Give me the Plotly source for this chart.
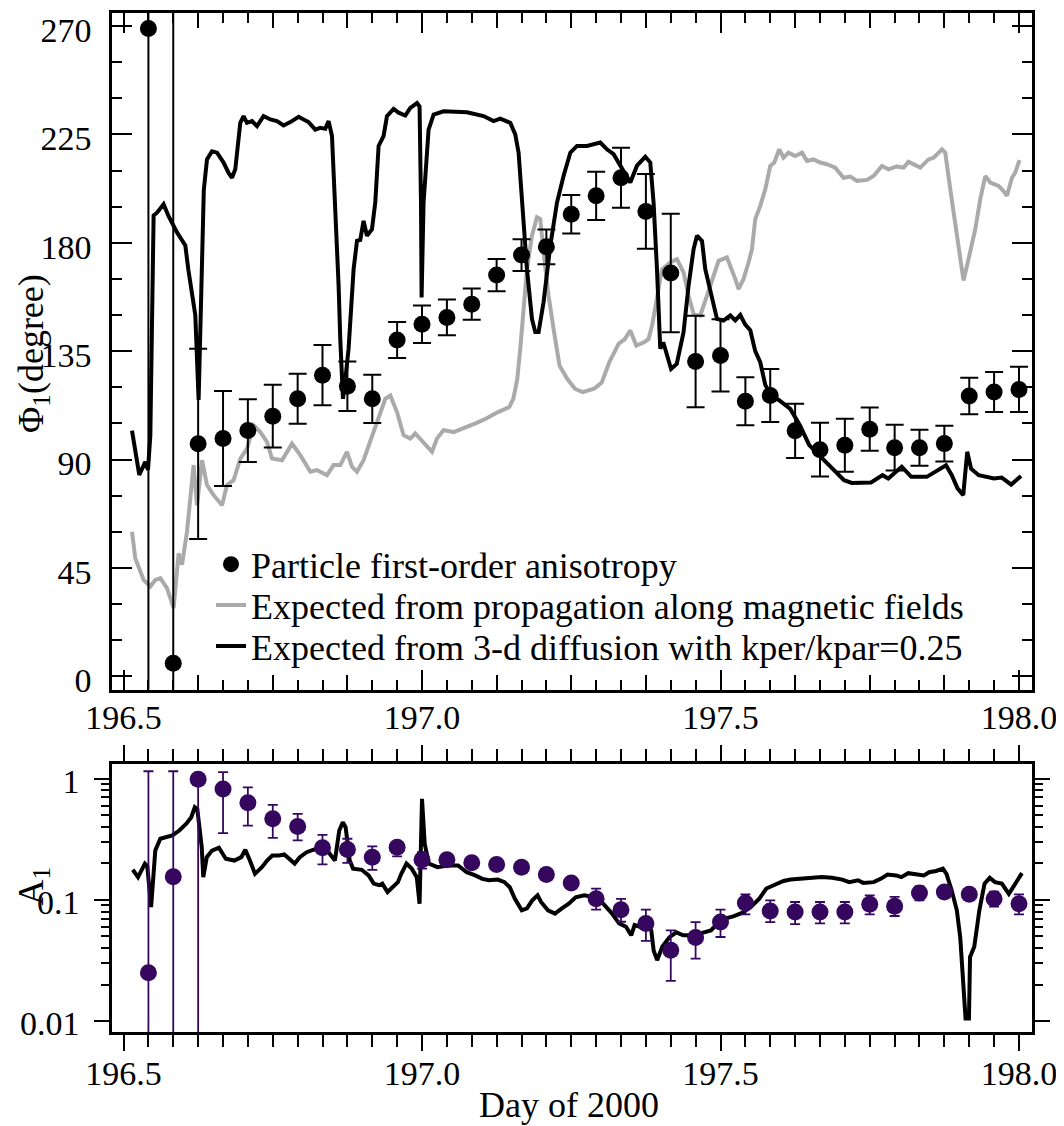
import plotly.graph_objects as go

# ---------------- data ----------------
# hourly particle anisotropy samples (Day of 2000)
t_pts = [196.5417, 196.5833, 196.625, 196.6667, 196.7083, 196.75, 196.7917, 196.8333,
         196.875, 196.9167, 196.9583, 197.0, 197.0417, 197.0833, 197.125, 197.1667,
         197.2083, 197.25, 197.2917, 197.3333, 197.375, 197.4167, 197.4583, 197.5,
         197.5417, 197.5833, 197.625, 197.6667, 197.7083, 197.75, 197.7917, 197.8333,
         197.875, 197.9167, 197.9583, 198.0]
phi = [269, 5.4, 96.5, 98.7, 102, 108, 115.2, 125, 120.4, 115.2, 139.6, 146.2, 149, 154.5,
       166.6, 174.9, 178.3, 191.8, 199.5, 207, 193, 167.4, 130.7, 133.2, 114.2, 116.6,
       101.9, 94.1, 95.9, 102.6, 94.9, 94.9, 96.6, 116.4, 118, 119.1]
phi_err = [400, 400, 39.5, 19.7, 13, 13, 10.4, 12.5, 10.3, 10, 7.5, 7.8, 7.4, 6.5, 6.7, 6.6,
           7.2, 8, 10, 12.5, 15.5, 24.6, 19, 15, 10, 11, 11.3, 11.2, 11, 9, 9.5, 7.5, 7.4,
           7.6, 8.3, 9.4]

a1 = [0.025, 0.155, 0.99, 0.822, 0.631, 0.466, 0.403, 0.269, 0.26, 0.225, 0.272, 0.214,
      0.214, 0.202, 0.196, 0.186, 0.162, 0.138, 0.102, 0.083, 0.0637, 0.0384, 0.0489,
      0.0656, 0.094, 0.081, 0.0794, 0.0794, 0.0794, 0.0918, 0.0885, 0.114, 0.116, 0.111,
      0.102, 0.093]
a1_hi = [1.15, 1.15, 1.0, 1.13, 0.848, 0.607, 0.512, 0.344, 0.319, 0.276, 0.30, 0.248,
         0.235, 0.22, 0.213, 0.2, 0.175, 0.15, 0.124, 0.102, 0.083, 0.056, 0.0656, 0.083,
         0.111, 0.099, 0.096, 0.096, 0.096, 0.109, 0.106, 0.129, 0.128, 0.122, 0.117, 0.111]
a1_lo = [0, 0, 0, 0.355, 0.41, 0.325, 0.309, 0.196, 0.202, 0.177, 0.228, 0.181, 0.195,
         0.185, 0.18, 0.172, 0.15, 0.127, 0.083, 0.066, 0.0458, 0.0215, 0.0328, 0.0494,
         0.076, 0.0656, 0.063, 0.064, 0.064, 0.076, 0.0736, 0.099, 0.104, 0.1, 0.088, 0.076]

# expected from propagation along magnetic fields (grey)
t_mag = [196.5142, 196.5197, 196.5336, 196.5449, 196.5532, 196.5616, 196.5728, 196.5839,
         196.5923, 196.5980, 196.6063, 196.6174, 196.6231, 196.6315, 196.6398, 196.6509,
         196.6650, 196.6733, 196.6844, 196.6956, 196.7068, 196.7179, 196.7291, 196.7403,
         196.7487, 196.7655, 196.7822, 196.7961, 196.8129, 196.8241, 196.8408, 196.8519,
         196.8631, 196.8743, 196.8827, 196.8911, 196.9021, 196.9134, 196.9246, 196.9385,
         196.9469, 196.9581, 196.9691, 196.9804, 196.9887, 197.0026, 197.0167, 197.0251,
         197.0361, 197.0529, 197.0691, 197.0886, 197.1077, 197.1273, 197.1462, 197.1529,
         197.1596, 197.1646, 197.1758, 197.1842, 197.1926, 197.1981, 197.2036, 197.2120,
         197.2204, 197.2303, 197.2433, 197.2561, 197.2690, 197.2882, 197.3011, 197.3137,
         197.3293, 197.3398, 197.3489, 197.3589, 197.3720, 197.3795, 197.3857, 197.3936,
         197.4020, 197.4159, 197.4271, 197.4381, 197.4465, 197.4549, 197.4661, 197.4773,
         197.4884, 197.4968, 197.5108, 197.5164, 197.5247, 197.5303, 197.5386, 197.5470,
         197.5527, 197.5582, 197.5666, 197.5750, 197.5834, 197.5901, 197.5984, 197.6056,
         197.6140, 197.6252, 197.6365, 197.6448, 197.6559, 197.6671, 197.6783, 197.6922,
         197.7061, 197.7174, 197.7286, 197.7453, 197.7564, 197.7705, 197.7815, 197.7956,
         197.8066, 197.8150, 197.8346, 197.8485, 197.8569, 197.8710, 197.8765, 197.8849,
         197.8961, 197.9071, 197.9155, 197.9267, 197.9351, 197.9435, 197.9519, 197.9658,
         197.9741, 197.9798, 197.9882, 197.9937, 198.0009]
phi_mag = [60, 49, 40, 37.3, 40, 40.7, 36.6, 28.3, 51, 46.3, 60, 87.7, 71, 89.7, 79.4, 75.2,
           71, 79.4, 81.4, 90.4, 94.5, 104.2, 101.4, 97.3, 90.4, 89.7, 96.6, 91.8, 84.9, 85.6,
           83.5, 87.7, 87.7, 93.2, 87, 84.9, 89.7, 97.3, 105.6, 115.2, 116.6, 109.7, 100.1,
           98.7, 100.8, 97.3, 93.2, 98.7, 102.2, 101.4, 102.8, 104.9, 107, 109.7, 111.8,
           115.2, 123.5, 136, 169, 183, 190.6, 189.9, 176, 158, 144.2, 129, 123.5, 119.4,
           118, 119.4, 122, 130.4, 138, 140, 143.6, 137.3, 138.7, 140, 146, 158, 169, 171.8,
           173.2, 167.7, 158, 150.5, 149.8, 158, 166.4, 172.5, 173.9, 170.5, 165, 160.8, 165,
           171.8, 177.3, 189.8, 195.3, 202.2, 211.9, 213.3, 218.8, 215.3, 217.4, 216, 217.4,
           214, 214.6, 213.3, 212.6, 211.2, 207, 207.5, 205.7, 206.1, 207.7, 211.9, 210.5,
           211.7, 211.2, 213.6, 211.2, 214.6, 215.3, 218.8, 217.4, 202.2, 182.9, 164.3,
           173.2, 185.6, 198, 207.7, 205, 203.6, 201.5, 199.5, 207, 209.1, 214.3]

# expected from 3-d diffusion with kper/kpar=0.25 (black, top)
t_diff = [196.5142, 196.5264, 196.5365, 196.5410, 196.5449, 196.5504, 196.5561, 196.5671,
          196.5755, 196.5896, 196.6035, 196.6085, 196.6202, 196.6258, 196.6303, 196.6345,
          196.6398, 196.6482, 196.6566, 196.6676, 196.6760, 196.6817, 196.6872, 196.6956,
          196.7011, 196.7068, 196.7152, 196.7236, 196.7346, 196.7459, 196.7571, 196.7681,
          196.7794, 196.7933, 196.8016, 196.8100, 196.8212, 196.8296, 196.8380, 196.8435,
          196.8492, 196.8547, 196.8603, 196.8631, 196.8676, 196.8723, 196.8770, 196.8854,
          196.8911, 196.8966, 196.9021, 196.9078, 196.9162, 196.9217, 196.9273, 196.9356,
          196.9413, 196.9524, 196.9608, 196.9720, 196.9804, 196.9916, 196.9959, 196.9983,
          196.9993, 197.0026, 197.0110, 197.0194, 197.0361, 197.0753, 197.1031, 197.1199,
          197.1311, 197.1479, 197.1562, 197.1618, 197.1675, 197.1758, 197.1842, 197.1897,
          197.1953, 197.2036, 197.2149, 197.2261, 197.2371, 197.2484, 197.2596, 197.2763,
          197.2986, 197.3098, 197.3209, 197.3321, 197.3433, 197.3489, 197.3601, 197.3740,
          197.3824, 197.3879, 197.3936, 197.3991, 197.4041, 197.4172, 197.4267, 197.4381,
          197.4465, 197.4549, 197.4606, 197.4690, 197.4745, 197.4857, 197.4941, 197.5051,
          197.5164, 197.5247, 197.5331, 197.5415, 197.5499, 197.5582, 197.5666, 197.5750,
          197.5847, 197.5976, 197.6169, 197.6329, 197.6487, 197.6684, 197.6872, 197.7070,
          197.7199, 197.7522, 197.7715, 197.7810, 197.8036, 197.8195, 197.8455, 197.8681,
          197.8778, 197.8874, 197.8971, 197.9066, 197.9133, 197.9197, 197.9326, 197.9582,
          197.9711, 197.9870, 198.0034]
phi_diff = [102, 83.6, 89, 85.7, 100, 191.3, 192.5, 196, 191, 184.3, 178.9, 169, 150, 114.7,
            160, 202, 214.6, 218, 217.4, 213.3, 209, 207, 210.5, 229.8, 232.6, 229.8, 230.5,
            228.4, 232.6, 231.2, 230.5, 228.7, 230.1, 232.3, 231.2, 230.1, 227, 227.7, 227.3,
            230.5, 224.3, 196.7, 162.2, 140, 115.2, 125, 136, 169, 180.8, 181.2, 189.1, 182.9,
            185.6, 196.7, 220.2, 224.3, 232.6, 235.6, 234, 232.8, 236, 238, 236.6, 196.7,
            157.3, 196.7, 227, 233.2, 234.6, 234.2, 232.6, 230.5, 231.5, 229.8, 225, 217.4,
            196.7, 169, 148.4, 142.9, 142.9, 155.3, 178.8, 196.7, 207.7, 217.4, 220.2, 220.2,
            221.6, 218.8, 216.8, 212, 207.7, 205, 212, 215.7, 213.3, 196.7, 169, 136, 138.7,
            127.6, 129.7, 142.9, 162.2, 177.3, 182.9, 180.8, 169, 158, 148.4, 147.7, 149.8,
            147.8, 150, 146, 143.7, 135, 130.4, 121, 116.6, 114.7, 111, 104.2, 96, 91, 86.2,
            81.4, 80.3, 80.5, 83.5, 82.1, 87, 82.8, 82.8, 86.2, 87.6, 83.5, 78, 75.2, 93.2,
            86.2, 83.5, 82.1, 82.5, 79.6, 83.2]

# expected A1 from 3-d diffusion (black, bottom)
t_a1 = [196.5155, 196.5243, 196.5358, 196.5398, 196.5462, 196.5532, 196.5616, 196.5700,
        196.5817, 196.5934, 196.6052, 196.6135, 196.6194, 196.6236, 196.6310, 196.6336,
        196.6395, 196.6482, 196.6598, 196.6713, 196.6856, 196.6973, 196.7040, 196.7117,
        196.7202, 196.7318, 196.7405, 196.7492, 196.7606, 196.7693, 196.7777, 196.7866,
        196.7953, 196.8068, 196.8184, 196.8296, 196.8413, 196.8497, 196.8541, 196.8614,
        196.8673, 196.8720, 196.8789, 196.8845, 196.8990, 196.9105, 196.9192, 196.9279,
        196.9335, 196.9423, 196.9509, 196.9596, 196.9653, 196.9740, 196.9827, 196.9912,
        196.9959, 197.0000, 197.0045, 197.0115, 197.0259, 197.0432, 197.0604, 197.0748,
        197.0892, 197.1010, 197.1123, 197.1268, 197.1383, 197.1470, 197.1556, 197.1671,
        197.1758, 197.1847, 197.1936, 197.1994, 197.2110, 197.2227, 197.2343, 197.2458,
        197.2574, 197.2718, 197.2894, 197.3036, 197.3184, 197.3301, 197.3417, 197.3504,
        197.3561, 197.3648, 197.3765, 197.3840, 197.3881, 197.3939, 197.4025, 197.4142,
        197.4259, 197.4375, 197.4549, 197.4721, 197.4839, 197.4954, 197.5070, 197.5214,
        197.5361, 197.5505, 197.5649, 197.5767, 197.5912, 197.6056, 197.6174, 197.6348,
        197.6520, 197.6696, 197.6869, 197.7040, 197.7157, 197.7304, 197.7391, 197.7566,
        197.7683, 197.7798, 197.7944, 197.8028, 197.8145, 197.8291, 197.8408, 197.8495,
        197.8611, 197.8726, 197.8785, 197.8872, 197.8959, 197.9016, 197.9075, 197.9105,
        197.9162, 197.9180, 197.9251, 197.9336, 197.9423, 197.9510, 197.9597, 197.9713,
        197.9830, 197.9917, 198.0004, 198.0050]
a1_diff = [0.177, 0.154, 0.199, 0.19, 0.087, 0.255, 0.319, 0.325, 0.34, 0.373, 0.424, 0.48,
           0.58, 0.56, 0.272, 0.154, 0.225, 0.255, 0.269, 0.218, 0.211, 0.225, 0.259, 0.211,
           0.164, 0.186, 0.211, 0.232, 0.232, 0.237, 0.218, 0.199, 0.225, 0.247, 0.259,
           0.264, 0.255, 0.225, 0.211, 0.373, 0.437, 0.397, 0.211, 0.181, 0.177, 0.159,
           0.136, 0.132, 0.136, 0.116, 0.127, 0.140, 0.164, 0.199, 0.181, 0.154, 0.093,
           0.68, 0.29, 0.199, 0.186, 0.192, 0.192, 0.169, 0.159, 0.149, 0.145, 0.147, 0.140,
           0.127, 0.102, 0.082, 0.085, 0.099, 0.109, 0.096, 0.082, 0.077, 0.085, 0.093,
           0.105, 0.109, 0.105, 0.093, 0.077, 0.064, 0.06, 0.051, 0.062, 0.06, 0.066, 0.056,
           0.038, 0.0318, 0.041, 0.049, 0.054, 0.051, 0.051, 0.054, 0.056, 0.064, 0.07,
           0.073, 0.078, 0.087, 0.102, 0.124, 0.134, 0.143, 0.147, 0.149, 0.149, 0.154,
           0.152, 0.147, 0.14, 0.145, 0.138, 0.14, 0.149, 0.162, 0.159, 0.154, 0.166, 0.162,
           0.159, 0.169, 0.173, 0.181, 0.164, 0.12, 0.082, 0.049, 0.0204, 0.0105, 0.0105,
           0.0338, 0.041, 0.082, 0.136, 0.152, 0.14, 0.136, 0.112, 0.132, 0.154, 0.166]

x_ticks = [196.5, 197.0, 197.5, 198.0]
x_ticklabels = ["196.5", "197.0", "197.5", "198.0"]
phi_ticks = [0, 45, 90, 135, 180, 225, 270]
a1_ticks = [0.01, 0.1, 1]
a1_ticklabels = ["0.01", "0.1", "1"]
a1_minor = [0.02, 0.03, 0.04, 0.05, 0.06, 0.07, 0.08, 0.09,
            0.2, 0.3, 0.4, 0.5, 0.6, 0.7, 0.8, 0.9]

# ---------------- style ----------------
FONT = "Liberation Serif"
GREY = "#aaaaaa"
PURPLE = "#35075f"
XR = [196.4807, 198.0218]
LEG_X = 0.1076
TXT = 36

fig = go.Figure()

fig.add_trace(go.Scatter(x=t_mag, y=phi_mag, mode="lines", line=dict(color=GREY, width=4),
                         name="Expected from propagation along magnetic fields",
                         xaxis="x", yaxis="y", legend="legend2"))
fig.add_trace(go.Scatter(x=t_diff, y=phi_diff, mode="lines", line=dict(color="black", width=4),
                         name="Expected from 3-d diffusion with kper/kpar=0.25",
                         xaxis="x", yaxis="y", legend="legend3"))
fig.add_trace(go.Scatter(x=t_pts, y=phi, mode="markers",
                         marker=dict(color="black", size=17),
                         error_y=dict(type="data", array=phi_err, color="black",
                                      thickness=2, width=9),
                         name="Particle first-order anisotropy",
                         xaxis="x", yaxis="y", legend="legend"))
# carrier for the medium (3-hour) tick axis
fig.add_trace(go.Scatter(x=[None], y=[None], xaxis="x3", yaxis="y", showlegend=False,
                         hoverinfo="skip"))

fig.add_trace(go.Scatter(x=t_a1, y=a1_diff, mode="lines", line=dict(color="black", width=4),
                         showlegend=False, xaxis="x2", yaxis="y2"))
fig.add_trace(go.Scatter(x=t_pts, y=a1, mode="markers",
                         marker=dict(color=PURPLE, size=17),
                         error_y=dict(type="data", symmetric=False,
                                      array=[h - v for h, v in zip(a1_hi, a1)],
                                      arrayminus=[v - l for v, l in zip(a1, a1_lo)],
                                      color=PURPLE, thickness=1.8, width=5),
                         showlegend=False, xaxis="x2", yaxis="y2"))

tickfont = dict(family=FONT, size=34, color="black")
legfont = dict(family=FONT, size=TXT, color="black")


def leg(y):
    return dict(x=LEG_X, y=y, xanchor="left", yanchor="middle", bgcolor="rgba(0,0,0,0)",
                font=legfont, itemwidth=30, borderwidth=0)


fig.update_layout(
    width=1056, height=1118,
    margin=dict(l=104, r=32, t=2, b=94),
    paper_bgcolor="white", plot_bgcolor="white",
    font=dict(family=FONT, size=TXT, color="black"),
    showlegend=True,
    legend=leg(0.459), legend2=leg(0.4189), legend3=leg(0.3787),
    xaxis=dict(domain=[0, 1], anchor="y", range=XR, tickmode="array", tickvals=x_ticks,
               ticktext=x_ticklabels, ticks="inside", ticklen=20, tickwidth=2,
               tickcolor="black", showline=True, linewidth=2.5, linecolor="black",
               mirror="ticks", showgrid=False, zeroline=False, tickfont=tickfont,
               ticklabelstandoff=-4, ticklabeloverflow="allow",
               minor=dict(tick0=196.5, dtick=1 / 24, ticks="inside", ticklen=10,
                          tickwidth=2, tickcolor="black", showgrid=False)),
    xaxis3=dict(overlaying="x", anchor="y", range=XR, tickmode="linear", tick0=196.5,
                dtick=0.125, ticks="inside", ticklen=15, tickwidth=2, tickcolor="black",
                showticklabels=False, showline=False, mirror="ticks", showgrid=False,
                zeroline=False),
    yaxis=dict(domain=[0.3361, 1], anchor="x", range=[-5.5, 275.4], tickmode="array",
               tickvals=phi_ticks, ticks="inside", ticklen=20, tickwidth=2,
               tickcolor="black", showline=True, linewidth=2.5, linecolor="black",
               mirror="ticks", showgrid=False, zeroline=False, tickfont=tickfont,
               ticklabelstandoff=11, ticklabeloverflow="allow", ticklabelshift=4,
               minor=dict(tick0=0, dtick=15, ticks="inside", ticklen=10, tickwidth=2,
                          tickcolor="black", showgrid=False)),
    xaxis2=dict(domain=[0, 1], anchor="y2", range=XR, tickmode="array", tickvals=x_ticks,
                ticktext=x_ticklabels, ticks="outside", ticklen=16, tickwidth=2,
                tickcolor="black", showline=True, linewidth=2.5, linecolor="black",
                mirror="ticks", showgrid=False, zeroline=False, tickfont=tickfont,
                ticklabelstandoff=-7, ticklabeloverflow="allow",
                minor=dict(tick0=196.5, dtick=1 / 24, ticks="outside", ticklen=12,
                           tickwidth=2, tickcolor="black", showgrid=False)),
    yaxis2=dict(domain=[0, 0.2633], anchor="x2", type="log", range=[-2.09, 0.123],
                tickmode="array", tickvals=a1_ticks, ticktext=a1_ticklabels,
                ticks="outside", ticklen=15, tickwidth=2, tickcolor="black",
                showline=True, linewidth=2.5, linecolor="black", mirror="ticks",
                showgrid=False, zeroline=False, tickfont=tickfont, ticklabelstandoff=8,
                ticklabeloverflow="allow", ticklabelshift=2,
                minor=dict(tickvals=a1_minor, ticks="outside", ticklen=8, tickwidth=2,
                           tickcolor="black", showgrid=False)),
    annotations=[
        dict(text="Φ<sub>1</sub>(degree)", xref="paper", yref="paper", x=-0.0859,
             y=0.6663, xanchor="center", yanchor="middle", textangle=-90, showarrow=False,
             font=dict(family=FONT, size=TXT)),
        dict(text="A<sub>1</sub>", xref="paper", yref="paper", x=-0.0859, y=0.1438,
             xanchor="center", yanchor="middle", textangle=-90, showarrow=False,
             font=dict(family=FONT, size=TXT)),
        dict(text="Day of 2000", xref="paper", yref="paper", x=0.497, y=-0.0714,
             xanchor="center", yanchor="middle", showarrow=False,
             font=dict(family=FONT, size=TXT)),
    ],
)

fig.write_html("out.html")
